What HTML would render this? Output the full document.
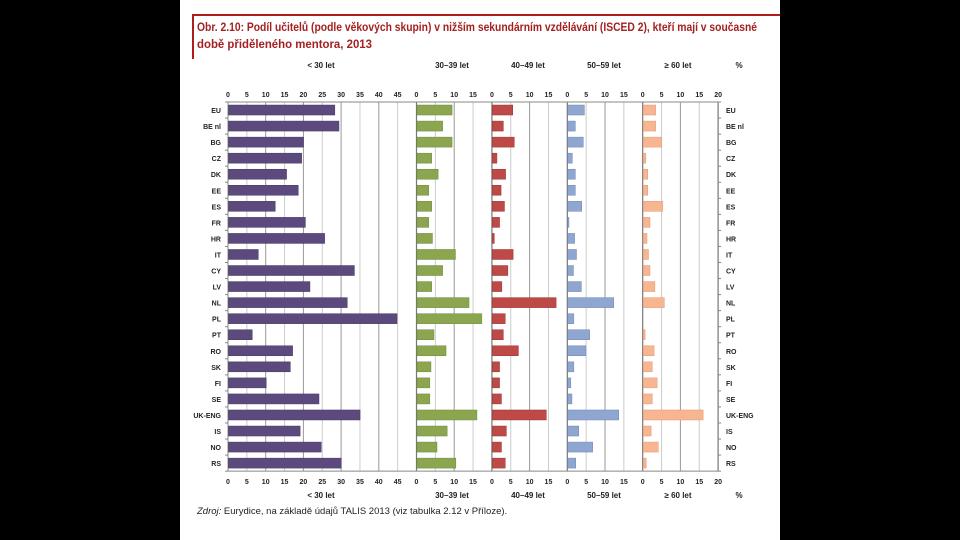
<!DOCTYPE html>
<html><head><meta charset="utf-8"><style>
body{margin:0;background:#000;}
#wrap{position:relative;width:960px;height:540px;background:#000;overflow:hidden}
#page{position:absolute;left:180px;top:0;width:600px;height:540px;background:#fff}
svg text{font-family:"Liberation Sans",sans-serif}
</style></head><body>
<div id="wrap">
<div id="page"></div>
<svg id="chart" width="960" height="540" style="position:absolute;left:0;top:0">
<line x1="192" y1="15" x2="780" y2="15" stroke="#b01c1c" stroke-width="2"/>
<line x1="193" y1="15" x2="193" y2="59" stroke="#b01c1c" stroke-width="2"/>
<text x="197" y="31" font-size="11.5" font-weight="bold" fill="#a52020" textLength="560" lengthAdjust="spacingAndGlyphs">Obr. 2.10: Podíl učitelů (podle věkových skupin) v nižším sekundárním vzdělávání (ISCED 2), kteří mají v současné</text>
<text x="197" y="48" font-size="11.5" font-weight="bold" fill="#a52020" textLength="175" lengthAdjust="spacingAndGlyphs">době přiděleného mentora, 2013</text>
<text x="197" y="514" font-size="9.5" fill="#222"><tspan font-style="italic">Zdroj:</tspan> Eurydice, na základě údajů TALIS 2013 (viz tabulka 2.12 v Příloze).</text>
<g id="g"></g>
</svg>
</div>
<script>
const categories=["EU","BE nl","BG","CZ","DK","EE","ES","FR","HR","IT","CY","LV","NL","PL","PT","RO","SK","FI","SE","UK-ENG","IS","NO","RS"];
const groupLabels=["< 30 let","30–39 let","40–49 let","50–59 let","≥ 60 let"];
const under30=[28.2,29.3,19.9,19.4,15.4,18.5,12.4,20.4,25.5,7.9,33.4,21.6,31.5,44.7,6.3,17,16.4,10,24,34.9,19,24.6,29.9];
const age30_39=[9.3,6.8,9.3,3.9,5.6,3.1,3.9,3.1,4.1,10.2,6.8,3.9,13.8,17.2,4.5,7.7,3.7,3.4,3.4,15.9,8,5.3,10.3];
const age40_49=[5.4,2.9,5.8,1.2,3.5,2.3,3.2,1.9,0.5,5.5,4.1,2.5,16.9,3.4,2.9,6.9,1.9,1.9,2.4,14.3,3.7,2.4,3.4];
const age50_59=[4.4,2,4.1,1.2,2,2,3.7,0.3,1.8,2.3,1.5,3.6,12.2,1.6,5.8,4.8,1.6,0.8,1.1,13.5,2.9,6.6,2.1];
const age60plus=[3.3,3.3,4.9,0.7,1.2,1.2,5.2,1.8,1,1.4,1.8,3.1,5.6,0,0.5,2.9,2.4,3.7,2.4,15.9,2.1,4,0.8];
const ticks1=[0,5,10,15,20,25,30,35,40,45];
const ticks2=[0,5,10,15];
const ticks5=[0,5,10,15,20];
const series=[under30,age30_39,age40_49,age50_59,age60plus];
const colors=["#5c4a7f","#8ba64f","#bd4a47","#8fa6d0","#f7b592"];
const strokes=["#46385f","#6e8a3a","#9c3432","#6f88b4","#e29a73"];
const panelMax=[50,20,20,20,20];
const S=3.77, X0=228, TOP=102, ROW=16.05, BH=10;
const panelStart=[];{let x=X0;for(const m of panelMax){panelStart.push(x);x+=m*S;}}
const XEND=panelStart[4]+20*S;
const xs=(p,v)=>panelStart[p]+v*S;
const yc=i=>TOP+ROW*(i+0.5);
const g=document.getElementById('g');
const NS="http://www.w3.org/2000/svg";
function mk(t,a){const e=document.createElementNS(NS,t);for(const k in a)e.setAttribute(k,a[k]);g.appendChild(e);return e;}
const BOT=TOP+ROW*categories.length;
for(let p=0;p<5;p++){
  for(let v=5;v<=panelMax[p];v+=5){
    const x=xs(p,v);
    const last=(v===panelMax[p]);
    const l=mk('line',{x1:x,x2:x,y1:TOP,y2:BOT,stroke:last?'#777':(v%10===0?'#999':'#ccc'),'stroke-width':last?1.2:1});
    
    
  }
}
let a=mk('line',{x1:X0,x2:X0,y1:TOP,y2:BOT,stroke:'#888'});

a=mk('line',{x1:X0,x2:XEND,y1:BOT,y2:BOT,stroke:'#888'});

a=mk('line',{x1:X0,x2:XEND,y1:TOP,y2:TOP,stroke:'#888'});

for(let i=0;i<=categories.length;i++){
  const y=TOP+ROW*i;
  let t=mk('line',{x1:X0-3,x2:X0,y1:y,y2:y,stroke:'#888'});
  
  t=mk('line',{x1:XEND,x2:XEND+3,y1:y,y2:y,stroke:'#888'});
  
}
for(let p=0;p<5;p++){
  const tk=p===0?ticks1:(p===4?ticks5:ticks2);
  for(const v of tk){
    for(const yy of [97,484]){
      const t=mk('text',{x:xs(p,v),y:yy,'font-size':7,'font-weight':'bold','text-anchor':'middle',fill:'#222'});
      t.textContent=v;
      
      
    }
  }
}
const gx=[321,452,528,604,678];
for(let p=0;p<5;p++){
  for(const yy of [68,498]){
    const t=mk('text',{x:gx[p],y:yy,'font-size':8,'font-weight':'bold','text-anchor':'middle',fill:'#222'});
    t.textContent=groupLabels[p];
    
    
  }
}
for(const yy of [68,498]){
  const t=mk('text',{x:739,y:yy,'font-size':8,'font-weight':'bold','text-anchor':'middle',fill:'#222'});
  t.textContent='%';
  
  
}
categories.forEach((c,i)=>{
  let t=mk('text',{x:221,y:yc(i)+3,'font-size':7,'font-weight':'bold','text-anchor':'end',fill:'#222'});
  t.textContent=c;
  
  
  t=mk('text',{x:726,y:yc(i)+3,'font-size':7,'font-weight':'bold',fill:'#222'});
  t.textContent=c;
  
  
});
const barNames=['bar-under-30','bar-30-39','bar-40-49','bar-50-59','bar-60-plus'];
series.forEach((s,p)=>{
  s.forEach((v,i)=>{
    if(v<=0)return;
    const b=mk('rect',{x:xs(p,0)+0.5,y:yc(i)-BH/2,width:v*S,height:BH,fill:colors[p],stroke:strokes[p],'stroke-width':0.5});
    
    
  });
});
</script>
</body></html>
